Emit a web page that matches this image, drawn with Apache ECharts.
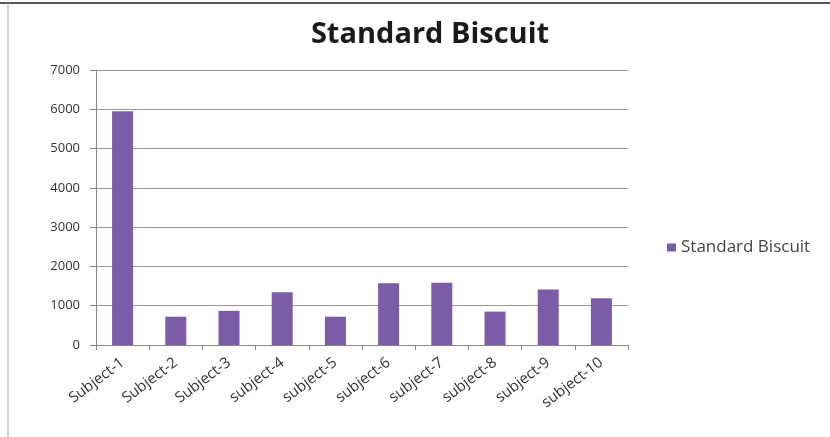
<!DOCTYPE html>
<html><head><meta charset="utf-8">
<script src="https://cdn.jsdelivr.net/npm/echarts@6/dist/echarts.min.js"></script>
<style>html,body{margin:0;padding:0;background:#fff}#c{width:830px;height:437px}</style>
</head><body><div id="c"></div>
<script>
const categories = ['Subject-1','Subject-2','Subject-3','subject-4','subject-5','subject-6','subject-7','subject-8','subject-9','subject-10'];
const seriesName = 'Standard Biscuit';
const values = [5950, 720, 870, 1340, 720, 1570, 1585, 850, 1415, 1190];
const yTicks = [0, 1000, 2000, 3000, 4000, 5000, 6000, 7000];

const chart = echarts.init(document.getElementById('c'), null, {renderer:'canvas'});
const font = '"Open Sans", "Noto Sans", sans-serif';
chart.setOption({
  animation:false,
  textStyle:{fontFamily:font},
  title:{text:'Standard Biscuit', left:425, top:15, textAlign:'center',
    textStyle:{fontFamily:font, fontSize:29, fontWeight:'bold', color:'#1a1a1a'}},
  legend:{data:[seriesName], left:662, top:234, itemWidth:9, itemHeight:8, icon:'rect', itemGap:5,
    textStyle:{fontFamily:font, fontSize:17, color:'#444'}},
  grid:{left:96, right:202, top:70, bottom:92},
  xAxis:{type:'category', data:categories,
    axisLine:{lineStyle:{color:'#888'}},
    axisTick:{show:true, length:5, lineStyle:{color:'#888'}},
    axisLabel:{rotate:37, fontSize:15, color:'#333', margin:16, interval:0}},
  yAxis:{type:'value', min:0, max:yTicks[yTicks.length-1], interval:1000,
    axisLine:{show:true, lineStyle:{color:'#888'}},
    axisTick:{show:true, length:6, lineStyle:{color:'#888'}},
    splitLine:{lineStyle:{color:'#999'}},
    axisLabel:{fontSize:13, color:'#333', margin:16, formatter:function(v){return String(v);}}},
  series:[{name:seriesName, type:'bar', data:values, barWidth:21,
    itemStyle:{color:'#7c5ba7'}}],
  graphic:[
    {type:'line', shape:{x1:0,y1:3,x2:830,y2:3}, style:{stroke:'#555', lineWidth:2}},
    {type:'line', shape:{x1:8,y1:3,x2:8,y2:437}, style:{stroke:'#aaa', lineWidth:1}}
  ]
});
</script></body></html>
